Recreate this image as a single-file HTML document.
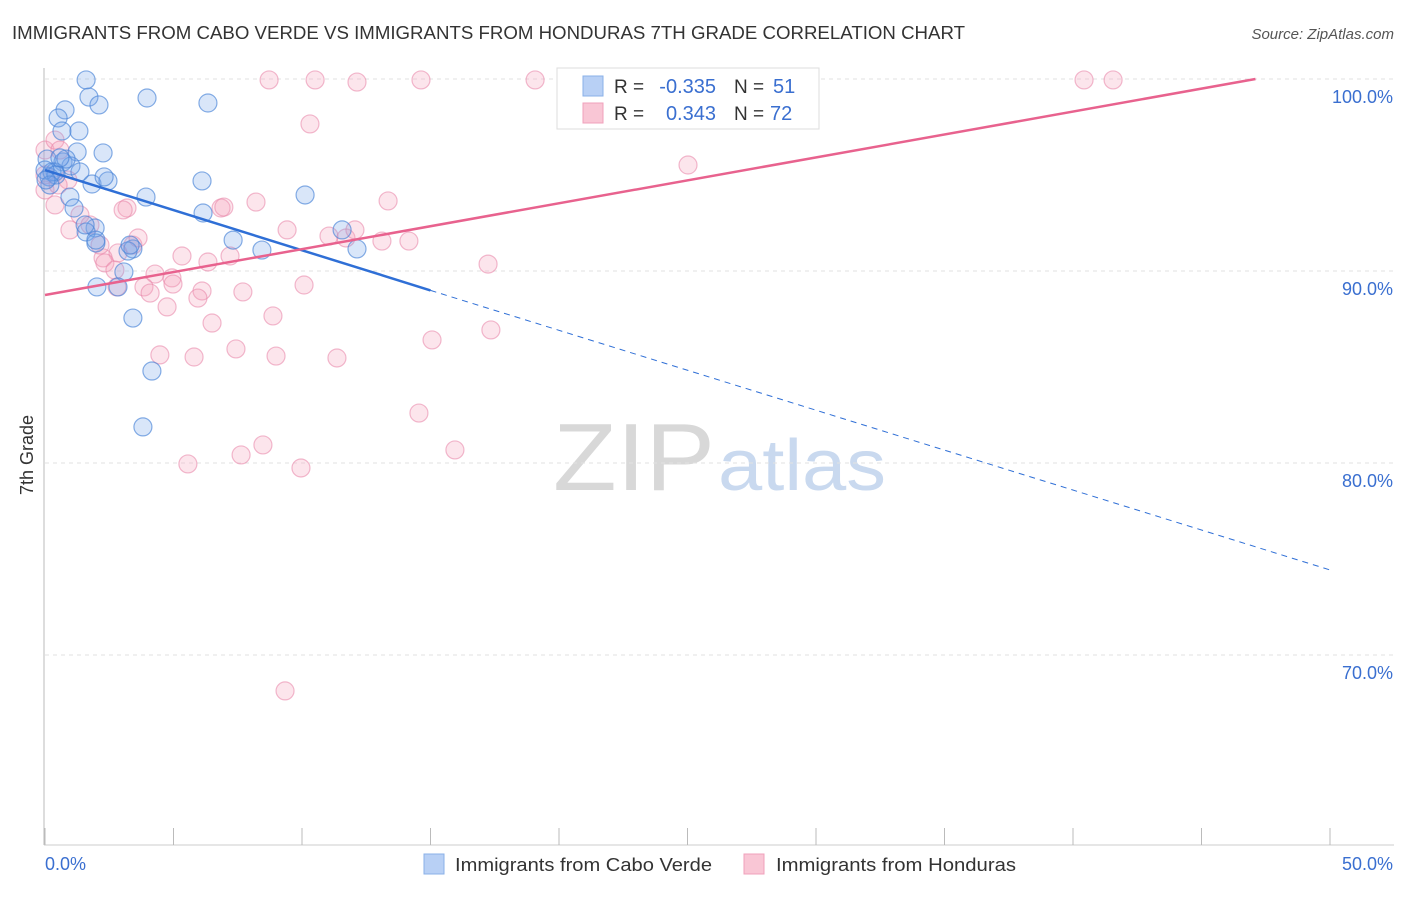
<!DOCTYPE html>
<html><head><meta charset="utf-8"><style>
body{margin:0;background:#fff;font-family:"Liberation Sans",sans-serif;}
svg text{font-family:"Liberation Sans",sans-serif;}
</style></head><body>
<svg id="chart" width="1406" height="892" xmlns="http://www.w3.org/2000/svg">
<text x="12" y="39" font-size="18" fill="#333" textLength="953" lengthAdjust="spacingAndGlyphs">IMMIGRANTS FROM CABO VERDE VS IMMIGRANTS FROM HONDURAS 7TH GRADE CORRELATION CHART</text>
<text x="1394" y="39" font-size="15" fill="#555" text-anchor="end" font-style="italic">Source: ZipAtlas.com</text>
<g>
<text x="553" y="490" font-size="96" fill="#d8d8d8" font-family="Liberation Serif" textLength="162" lengthAdjust="spacingAndGlyphs">ZIP</text>
<text x="718" y="490" font-size="72" fill="#c9d9ef" textLength="168" lengthAdjust="spacingAndGlyphs">atlas</text>
</g>
<g id="grid"></g><g id="axes"></g><g id="marks"></g>
<text transform="translate(33,455) rotate(-90)" font-size="18" fill="#333" text-anchor="middle">7th Grade</text>
<g>
<rect x="557" y="68" width="262" height="61" fill="#fff" stroke="#ddd"/>
<rect x="583" y="76" width="20" height="20" fill="#b8d0f5" stroke="#8ab0e8"/>
<rect x="583" y="103" width="20" height="20" fill="#f9c6d5" stroke="#f0a0bb"/>
<text x="614" y="93" font-size="19" fill="#333">R =</text>
<text x="716" y="93" font-size="20" fill="#3a6fd0" text-anchor="end">-0.335</text>
<text x="734" y="93" font-size="19" fill="#333">N =</text>
<text x="773" y="93" font-size="20" fill="#3a6fd0">51</text>
<text x="614" y="120" font-size="19" fill="#333">R =</text>
<text x="716" y="120" font-size="20" fill="#3a6fd0" text-anchor="end">0.343</text>
<text x="734" y="120" font-size="19" fill="#333">N =</text>
<text x="770" y="120" font-size="20" fill="#3a6fd0">72</text>
</g>
<g>
<rect x="424" y="854" width="20" height="20" fill="#b8d0f5" stroke="#8ab0e8"/>
<text x="455" y="871" font-size="18" fill="#333" textLength="257" lengthAdjust="spacingAndGlyphs">Immigrants from Cabo Verde</text>
<rect x="744" y="854" width="20" height="20" fill="#f9c6d5" stroke="#f0a0bb"/>
<text x="776" y="871" font-size="18" fill="#333" textLength="240" lengthAdjust="spacingAndGlyphs">Immigrants from Honduras</text>
</g>
</svg>
<script>
const blueX=[1.6,1.71,2.1,3.97,6.34,0.78,0.51,0.66,1.32,2.26,1.25,0.08,0.7,1.01,1.36,0.39,0.16,1.83,2.45,2.3,3.93,6.11,10.12,0.97,1.13,6.15,1.95,1.6,1.98,7.32,8.44,3.42,3.23,3.07,2.02,2.84,3.42,4.16,3.81,11.56,12.14,0.27,0.43,0,0.82,0.58,0.19,0.04,1.56,1.98,3.31];
const blueY=[99.95,99.06,98.65,99.01,98.75,98.39,97.97,97.29,97.29,96.15,96.2,95.83,95.68,95.47,95.16,95.16,94.9,94.53,94.69,94.9,93.85,94.69,93.96,93.85,93.28,93.02,92.24,92.03,91.46,91.61,91.09,91.15,91.04,89.95,89.17,89.17,87.55,84.79,81.88,92.14,91.15,95.16,95.0,95.26,95.83,95.89,94.48,94.74,92.4,91.61,91.35];
const pinkX=[8.72,10.51,12.14,14.63,19.07,23.74,28.13,40.43,41.56,10.31,25.02,0,0.39,0.58,0.89,0.39,0,0.97,1.36,1.75,3.19,3.04,6.85,6.96,8.21,13.35,9.42,11.05,11.71,12.06,13.11,14.16,3.42,3.62,2.84,2.26,2.33,5.33,6.34,7.2,4.28,4.94,4.98,3.85,4.09,2.8,6.11,7.7,10.08,17.24,4.75,5.95,6.5,8.87,15.06,17.35,4.47,5.8,7.43,8.99,11.36,14.55,15.95,8.48,7.63,5.56,9.96,9.34,0,0.51,2.14,2.72];
const pinkY=[99.95,99.95,99.84,99.95,99.95,99.95,99.95,99.95,99.95,97.66,95.52,96.3,96.82,96.3,94.74,93.44,94.22,92.14,92.92,92.4,93.28,93.18,93.28,93.33,93.59,93.65,92.14,91.82,91.72,92.14,91.56,91.56,91.35,91.72,90.94,90.68,90.42,90.78,90.47,90.78,89.84,89.64,89.32,89.17,88.85,89.17,88.96,88.91,89.27,90.36,88.13,88.59,87.29,87.66,86.41,86.93,85.63,85.52,85.94,85.57,85.47,82.6,80.68,80.94,80.42,79.95,79.74,68.13,95.0,94.48,91.35,90.05];
const blueTrend=[[0,95.26],[15,88.99],[50,74.43]];
const pinkTrend=[[0,88.75],[47.1,100]];
const yTicks=[100,90,80,70];
const yTickLabels=["100.0%","90.0%","80.0%","70.0%"];
const xTickLabels=["0.0%","50.0%"];
const NS="http://www.w3.org/2000/svg";
const sx=v=>45+v*25.7, sy=v=>79+(100-v)*19.2;
function mk(parent,tag,attrs){const e=document.createElementNS(NS,tag);for(const k in attrs)e.setAttribute(k,attrs[k]);parent.appendChild(e);return e;}
const grid=document.getElementById('grid'),axes=document.getElementById('axes'),marks=document.getElementById('marks');
yTicks.forEach((t,i)=>{
 const l=mk(grid,'line',{x1:45,x2:1394,y1:sy(t),y2:sy(t),stroke:'#e2e2e2','stroke-dasharray':'4,4'});
 
 
 const tx=mk(axes,'text',{x:1393,y:sy(t)+24,'font-size':18,fill:'#3a6fd0','text-anchor':'end'});
 tx.textContent=yTickLabels[i];
 
 
});
const ax=mk(axes,'line',{x1:44,x2:44,y1:68,y2:845,stroke:'#bbb'});


const bx=mk(axes,'line',{x1:44,x2:1394,y1:845,y2:845,stroke:'#ccc'});


for(let v=0;v<=50;v+=5){
 const t=mk(axes,'line',{x1:sx(v),x2:sx(v),y1:828,y2:845,stroke:'#bbb'});
 
 
}
[[0,'start',45],[50,'end',1393]].forEach((a,i)=>{
 const tx=mk(axes,'text',{x:a[2],y:870,'font-size':18,fill:'#3a6fd0','text-anchor':a[1]});
 tx.textContent=xTickLabels[i];
 
 
});
pinkX.forEach((x,i)=>{
 const c=mk(marks,'circle',{cx:sx(x),cy:sy(pinkY[i]),r:9,fill:'rgba(245,160,188,0.28)',stroke:'rgba(232,130,165,0.55)','stroke-width':1.2});
 
 
});
blueX.forEach((x,i)=>{
 const c=mk(marks,'circle',{cx:sx(x),cy:sy(blueY[i]),r:9,fill:'rgba(120,165,235,0.28)',stroke:'rgba(70,130,215,0.65)','stroke-width':1.2});
 
 
});
const b1=mk(marks,'line',{x1:sx(blueTrend[0][0]),y1:sy(blueTrend[0][1]),x2:sx(blueTrend[1][0]),y2:sy(blueTrend[1][1]),stroke:'#2f6fd6','stroke-width':2.5});


const b2=mk(marks,'line',{x1:sx(blueTrend[1][0]),y1:sy(blueTrend[1][1]),x2:sx(blueTrend[2][0]),y2:sy(blueTrend[2][1]),stroke:'#2f6fd6','stroke-width':1,'stroke-dasharray':'6,5'});


const p1=mk(marks,'line',{x1:sx(pinkTrend[0][0]),y1:sy(pinkTrend[0][1]),x2:sx(pinkTrend[1][0]),y2:sy(pinkTrend[1][1]),stroke:'#e8628e','stroke-width':2.5});


</script>
</body></html>
